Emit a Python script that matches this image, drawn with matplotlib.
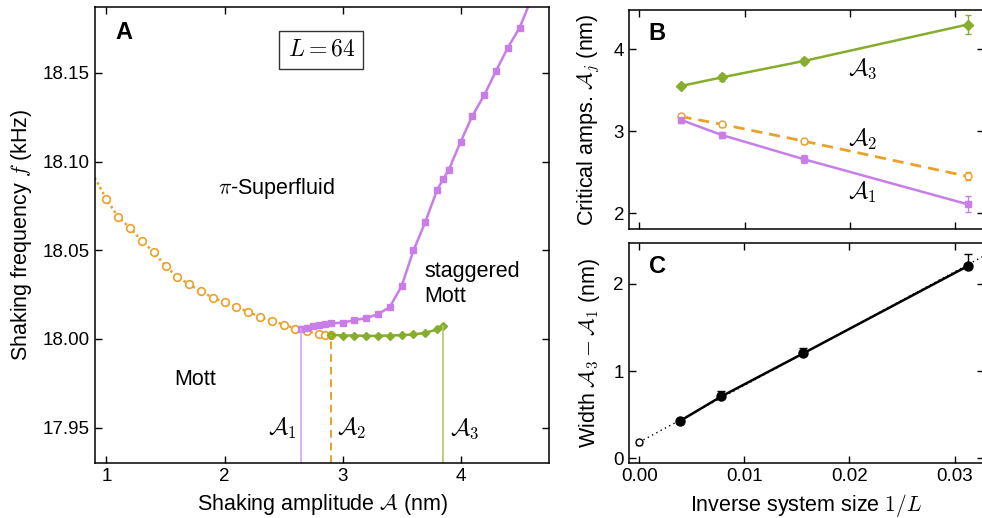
import numpy as np
import matplotlib
matplotlib.use("Agg")
import matplotlib.pyplot as plt

plt.rcParams['font.family'] = ['Liberation Sans', 'DejaVu Sans']
plt.rcParams['mathtext.fontset'] = 'cm'
plt.rcParams['axes.linewidth'] = 1.1

purple = '#c97de8'
purple_lt = '#d9a3ee'
orange = '#e9a12a'
green = '#86ad2c'
green_lt = '#b0c872'

# --- panel A: phase boundaries, L = 64 ---
mott_amp = [0.9, 1.0, 1.1, 1.2, 1.3, 1.4, 1.5, 1.6, 1.7, 1.8, 1.9, 2.0, 2.1, 2.2,
            2.3, 2.4, 2.5, 2.6, 2.7, 2.8, 2.85, 2.9]
mott_freq = [18.091, 18.0787, 18.0687, 18.0625, 18.0552, 18.0490, 18.0411, 18.0349,
             18.0308, 18.0270, 18.0231, 18.0208, 18.0180, 18.0152, 18.0124, 18.0101,
             18.0081, 18.0058, 18.0043, 18.0030, 18.0024, 18.0022]

sf_amp = [2.65, 2.7, 2.75, 2.8, 2.85, 2.9, 3.0, 3.1, 3.2, 3.3, 3.4, 3.5, 3.6, 3.7,
          3.8, 3.85, 3.9, 4.0, 4.1, 4.2, 4.3, 4.4, 4.5, 4.6]
sf_freq = [18.0058, 18.0063, 18.0070, 18.0077, 18.0083, 18.0087, 18.0092, 18.0105,
           18.0118, 18.0139, 18.0180, 18.0298, 18.0499, 18.0658, 18.0840, 18.0899,
           18.0955, 18.1112, 18.1259, 18.1375, 18.1512, 18.1643, 18.1756, 18.192]

stag_amp = [2.9, 3.0, 3.1, 3.2, 3.3, 3.4, 3.5, 3.6, 3.7, 3.8, 3.85]
stag_freq = [18.0024, 18.0019, 18.0019, 18.0017, 18.0017, 18.0019, 18.0021,
             18.0025, 18.0034, 18.0053, 18.0073]

# --- panel B / C: finite size scaling ---
inv_L = [1/256, 1/128, 1/64, 1/32]
crit1 = [3.14, 2.955, 2.66, 2.11]
err1 = [0.04, 0.04, 0.05, 0.10]
crit2 = [3.18, 3.085, 2.88, 2.45]
err2 = [0.03, 0.03, 0.03, 0.05]
crit3 = [3.55, 3.655, 3.855, 4.30]
err3 = [0.02, 0.04, 0.04, 0.11]

width = [0.43, 0.71, 1.205, 2.205]
width_err = [0.02, 0.065, 0.065, 0.14]
extrap_x, extrap_y, extrap_err = 0.0, 0.185, 0.03
fit_x = [0.0, 0.034]
fit_y = [0.185, 2.40]

fig = plt.figure(figsize=(9.82, 5.18), dpi=100)
axA = fig.add_axes([0.0964, 0.1062, 0.4629, 0.8797])
axB = fig.add_axes([0.6405, 0.5573, 0.3615, 0.4239])
axC = fig.add_axes([0.6402, 0.1056, 0.3618, 0.4253])

for ax in (axA, axB, axC):
    ax.tick_params(direction='in', top=True, right=True, length=5, width=1,
                   labelsize=13.5)

# A
axA.plot(mott_amp, mott_freq, ls=(0, (1, 1.2)), lw=1.8, color=orange,
         marker='o', ms=5.5, mfc='white', mec=orange, mew=1.2, markevery=range(1, len(mott_amp)))
axA.plot(sf_amp, sf_freq, '-', lw=1.8, color=purple, marker='s', ms=5, mec=purple)
axA.plot(stag_amp, stag_freq, '-', lw=1.8, color=green, marker='D', ms=4.5, mec=green)
axA.plot([sf_amp[0], sf_amp[0]], [17.93, sf_freq[0]], color=purple_lt, lw=1.2)
axA.plot([mott_amp[-1], mott_amp[-1]], [17.93, mott_freq[-1]], color=orange, lw=1.4, ls=(0, (4, 2.5)))
axA.plot([stag_amp[-1], stag_amp[-1]], [17.93, stag_freq[-1]], color=green_lt, lw=1.2)

axA.set_xlim(0.9, 4.75)
axA.set_ylim(17.93, 18.187)
axA.set_xticks([1, 2, 3, 4])
axA.set_yticks([17.95, 18.00, 18.05, 18.10, 18.15])
axA.set_yticklabels(['17.95', '18.00', '18.05', '18.10', '18.15'])
axA.set_xlabel(r'Shaking amplitude $\mathcal{A}$ (nm)', fontsize=15.5, labelpad=5)
axA.set_ylabel(r'Shaking frequency $f$ (kHz)', fontsize=15.5, labelpad=6)

axA.text(0.064, 0.944, 'A', transform=axA.transAxes, fontsize=17, fontweight='bold',
         ha='center', va='center')
axA.text(2.82, 18.163, r'$L = 64$', fontsize=17, ha='center', va='center',
         bbox=dict(boxstyle='square,pad=0.35', fc='white', ec='#333333', lw=1))
axA.text(2.44, 18.085, r'$\pi$-Superfluid', fontsize=15.5, ha='center', va='center')
axA.text(1.75, 17.977, 'Mott', fontsize=15.5, ha='center', va='center')
axA.text(3.69, 18.031, 'staggered\nMott', fontsize=15.5, ha='left', va='center',
         linespacing=1.3)
axA.text(2.615, 17.9495, r'$\mathcal{A}_1$', fontsize=17, ha='right', va='center')
axA.text(2.95, 17.9495, r'$\mathcal{A}_2$', fontsize=17, ha='left', va='center')
axA.text(3.91, 17.9495, r'$\mathcal{A}_3$', fontsize=17, ha='left', va='center')

# B
axB.errorbar(inv_L, crit2, yerr=err2, fmt='--o', color=orange, lw=2, ms=5,
             mfc='white', mec=orange, mew=1, capsize=2.5, elinewidth=1, dashes=(4, 2.5))
axB.errorbar(inv_L, crit1, yerr=err1, fmt='-s', color=purple, lw=1.8, ms=5,
             capsize=2.5, elinewidth=1)
axB.errorbar(inv_L, crit3, yerr=err3, fmt='-D', color=green, lw=1.8, ms=5,
             capsize=2.5, elinewidth=1)
axB.set_xlim(-0.001, 0.0328)
axB.set_ylim(1.805, 4.48)
axB.set_xticks([0, 0.01, 0.02, 0.03])
axB.set_xticklabels([])
axB.set_yticks([2, 3, 4])
axB.set_ylabel(r'Critical amps. $\mathcal{A}_j$ (nm)', fontsize=15.5, labelpad=8)
axB.text(0.080, 0.894, 'B', transform=axB.transAxes, fontsize=17, fontweight='bold',
         ha='center', va='center')
axB.text(0.0199, 3.76, r'$\mathcal{A}_3$', fontsize=17, ha='left', va='center')
axB.text(0.0199, 2.894, r'$\mathcal{A}_2$', fontsize=17, ha='left', va='center')
axB.text(0.0199, 2.25, r'$\mathcal{A}_1$', fontsize=17, ha='left', va='center')

# C
axC.plot(fit_x, fit_y, ls=(0, (1, 2.5)), color='black', lw=1)
axC.errorbar(inv_L, width, yerr=[np.zeros(len(width_err)), width_err], fmt='-o',
             color='black', lw=1.8, ms=6.5, capsize=3, elinewidth=1)
axC.errorbar([extrap_x], [extrap_y], yerr=[[extrap_err], [extrap_err]], fmt='o',
             color='black', ms=5, mfc='white', mew=1, capsize=2, elinewidth=0.8)
axC.set_xlim(-0.001, 0.0328)
axC.set_ylim(-0.057, 2.47)
axC.set_xticks([0, 0.01, 0.02, 0.03])
axC.set_xticklabels(['0.00', '0.01', '0.02', '0.03'])
axC.set_yticks([0, 1, 2])
axC.set_xlabel(r'Inverse system size $1/L$', fontsize=15.5, labelpad=5)
axC.set_ylabel(r'Width $\mathcal{A}_3-\mathcal{A}_1$ (nm)', fontsize=15.5, labelpad=8)
axC.text(0.080, 0.893, 'C', transform=axC.transAxes, fontsize=17, fontweight='bold',
         ha='center', va='center')

fig.savefig('out.png', dpi=100)
